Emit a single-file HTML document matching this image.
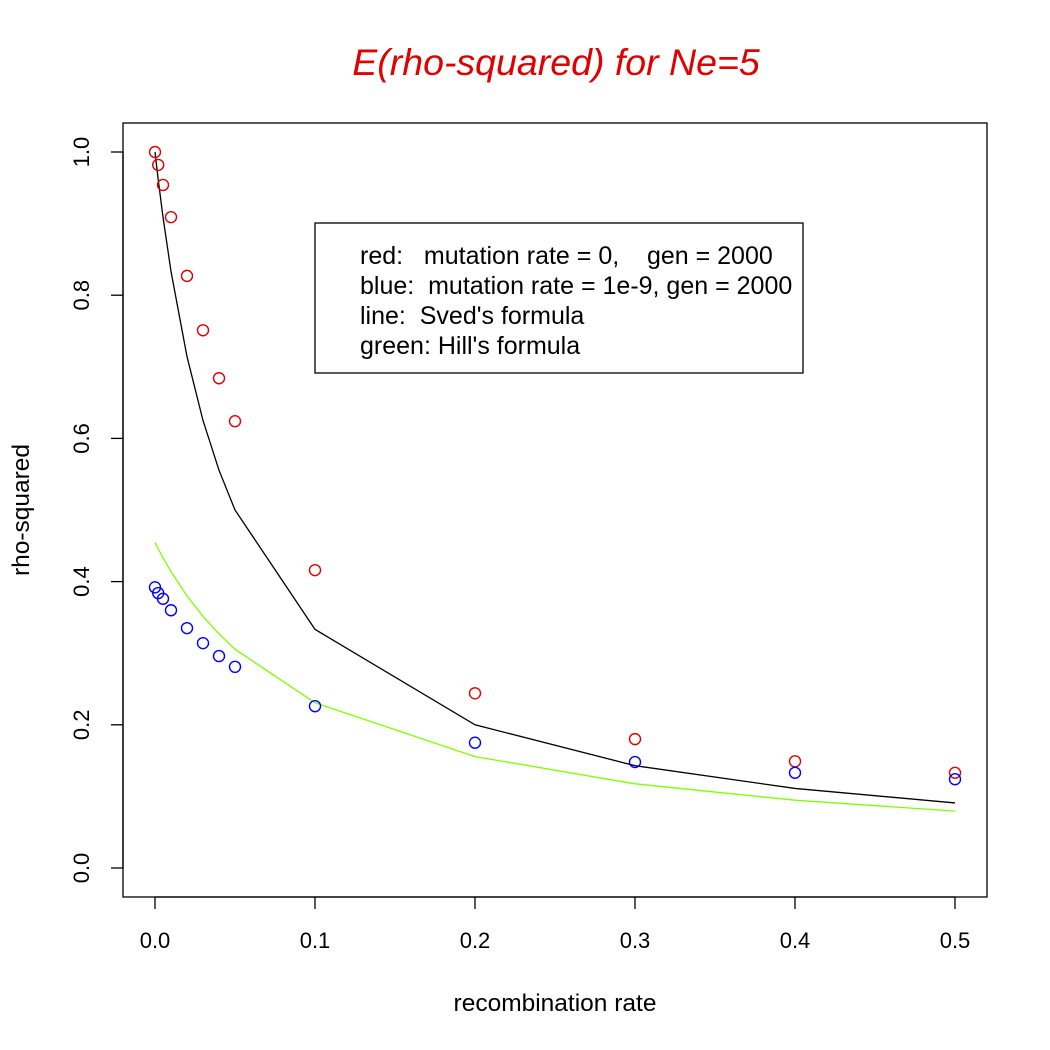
<!DOCTYPE html>
<html><head><meta charset="utf-8"><style>
html,body{margin:0;padding:0;background:#fff}
svg{display:block;font-family:"Liberation Sans",Arial,sans-serif}
</style></head><body>
<svg id="chart" width="1050" height="1050" viewBox="0 0 1050 1050">
<rect width="1050" height="1050" fill="#fff"/>
<text x="556" y="75" text-anchor="middle" font-size="37.5" font-style="italic" fill="#e00000">E(rho-squared) for Ne=5</text>
<rect x="123" y="123" width="864" height="774" fill="none" stroke="#000" stroke-width="1.3"/>
<g id="xaxis"></g>
<g id="yaxis"></g>
<text x="555" y="1011" text-anchor="middle" font-size="24.5">recombination rate</text>
<text transform="translate(29,510) rotate(-90)" text-anchor="middle" font-size="24.5">rho-squared</text>
<g id="series"></g>
<g>
<rect x="315" y="223" width="488" height="150" fill="#fff" stroke="#000" stroke-width="1.3"/>
<text x="360" y="264" font-size="25" xml:space="preserve">red:   mutation rate = 0,    gen = 2000</text>
<text x="360" y="294" font-size="25" xml:space="preserve">blue:  mutation rate = 1e-9, gen = 2000</text>
<text x="360" y="324" font-size="25" xml:space="preserve">line:  Sved's formula</text>
<text x="360" y="354" font-size="25" xml:space="preserve">green: Hill's formula</text>
</g>
</svg>
<script>
const recombRates = [0, 0.002, 0.005, 0.01, 0.02, 0.03, 0.04, 0.05, 0.1, 0.2, 0.3, 0.4, 0.5];
const redValues = [1.0, 0.982, 0.954, 0.909, 0.827, 0.751, 0.684, 0.624, 0.416, 0.244, 0.180, 0.149, 0.133];
const blueValues = [0.392, 0.384, 0.376, 0.360, 0.335, 0.314, 0.296, 0.281, 0.226, 0.175, 0.148, 0.133, 0.124];
const svedValues = [1.0, 0.9615, 0.9091, 0.8333, 0.7143, 0.625, 0.5556, 0.5, 0.3333, 0.2, 0.1429, 0.1111, 0.0909];
const hillValues = [0.4545, 0.4458, 0.4333, 0.414, 0.3801, 0.3515, 0.3269, 0.3056, 0.2308, 0.1556, 0.1176, 0.0947, 0.0794];
const xTicks = [0, 0.1, 0.2, 0.3, 0.4, 0.5];
const xTickLabels = ["0.0", "0.1", "0.2", "0.3", "0.4", "0.5"];
const yTicks = [0, 0.2, 0.4, 0.6, 0.8, 1.0];
const yTickLabels = ["0.0", "0.2", "0.4", "0.6", "0.8", "1.0"];

const NS = "http://www.w3.org/2000/svg";
function xs(v){ return 155 + v * 1600; }
function ys(v){ return 868 - v * 716; }
function mk(tag, attrs, parent){
  const e = document.createElementNS(NS, tag);
  for (const k in attrs) e.setAttribute(k, attrs[k]);
  parent.appendChild(e);
  return e;
}
const xa = document.getElementById('xaxis');
const ya = document.getElementById('yaxis');
const sg = document.getElementById('series');
mk('line', {x1: xs(0), x2: xs(0.5), y1: 897, y2: 897, stroke: '#000', 'stroke-width': 1.3}, xa);
xTicks.forEach((t, i) => {
  const l = mk('line', {x1: xs(t), x2: xs(t), y1: 897, y2: 909, stroke: '#000', 'stroke-width': 1.3}, xa);
  
  
  const tx = mk('text', {x: xs(t), y: 948, 'text-anchor': 'middle', 'font-size': 22}, xa);
  tx.textContent = xTickLabels[i];
  
  
});
mk('line', {x1: 123, x2: 123, y1: ys(0), y2: ys(1), stroke: '#000', 'stroke-width': 1.3}, ya);
yTicks.forEach((t, i) => {
  const l = mk('line', {x1: 111, x2: 123, y1: ys(t), y2: ys(t), stroke: '#000', 'stroke-width': 1.3}, ya);
  
  
  const tx = mk('text', {transform: `translate(89,${ys(t)}) rotate(-90)`, 'text-anchor': 'middle', 'font-size': 22}, ya);
  tx.textContent = yTickLabels[i];
  
  
});
function line(vals, color, name){
  const p = mk('polyline', {points: recombRates.map((x, i) => xs(x) + ',' + ys(vals[i])).join(' '), fill: 'none', stroke: color, 'stroke-width': 1.3}, sg);
  
  
}
line(svedValues, '#000', 'sved-line');
line(hillValues, '#7fff00', 'hill-line');
function pts(vals, color, name){
  vals.forEach((v, i) => {
    const c = mk('circle', {cx: xs(recombRates[i]), cy: ys(v), r: 5.5, fill: 'none', stroke: color, 'stroke-width': 1.4}, sg);
    
    
  });
}
pts(redValues, '#e00000', 'red-point');
pts(blueValues, '#0000ff', 'blue-point');
</script>
</body></html>
